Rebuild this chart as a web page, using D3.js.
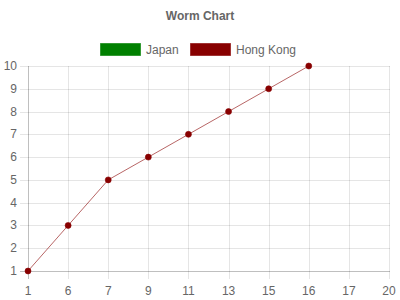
<!DOCTYPE html>
<html>
<head>
<meta charset="utf-8">
<script src="https://cdn.jsdelivr.net/npm/d3@7"></script>
<style>
  body { margin: 0; background: #fff; }
  svg text { font-family: "Liberation Sans", Arial, Helvetica, sans-serif; fill: #666; }
</style>
</head>
<body>
<svg width="400" height="300"></svg>
<script>
// chart data
var labels = ["1", "6", "7", "9", "11", "13", "15", "16", "17", "20"];
var japan = [null, null, null, null, null, null, null, null, null, null];
var hongKong = [1, 3, 5, 6, 7, 8, 9, 10, null, null];
var yTicks = [1, 2, 3, 4, 5, 6, 7, 8, 9, 10];

var series = [
    { name: "Japan", values: japan, fill: "#008000", stroke: "rgba(0,128,0,0.6)" },
    { name: "Hong Kong", values: hongKong, fill: "#880000", stroke: "rgba(136,0,0,0.6)" }
];

var svg = d3.select("svg");
// plot area (note: "top" is reserved on window)
var plotL = 28, plotR = 389, plotT = 66, plotB = 271;

var x = d3.scalePoint().domain(labels).range([plotL, plotR]);
var y = d3.scaleLinear().domain([1, 10]).range([plotB, plotT]);

// title
svg.append("text")
    .attr("x", 200).attr("y", 20)
    .attr("text-anchor", "middle")
    .style("font-size", "12px").style("font-weight", "bold")
    .text("Worm Chart");

// legend
var legendX = [100, 190];
series.forEach(function(s, i) {
    var g = svg.append("g").attr("transform", "translate(" + legendX[i] + ",43)");
    g.append("rect").attr("x", 0.5).attr("y", 0.5).attr("width", 40).attr("height", 12)
        .attr("fill", s.fill).attr("stroke", s.stroke);
    g.append("text").attr("x", 46).attr("y", 11)
        .style("font-size", "12px").text(s.name);
});

// horizontal grid
svg.append("g").selectAll("line").data(yTicks).enter().append("line")
    .attr("x1", plotL - 8).attr("x2", plotR + 1)
    .attr("y1", function(d) { return Math.round(y(d)) + 0.5; })
    .attr("y2", function(d) { return Math.round(y(d)) + 0.5; })
    .attr("stroke", function(d) { return d == 1 ? "rgba(0,0,0,0.25)" : "rgba(0,0,0,0.1)"; });

// vertical grid
svg.append("g").selectAll("line").data(labels).enter().append("line")
    .attr("x1", function(d) { return Math.round(x(d)) + 0.5; })
    .attr("x2", function(d) { return Math.round(x(d)) + 0.5; })
    .attr("y1", plotT).attr("y2", plotB + 8)
    .attr("stroke", function(d, i) { return i == 0 ? "rgba(0,0,0,0.25)" : "rgba(0,0,0,0.1)"; });

// y labels
svg.append("g").selectAll("text").data(yTicks).enter().append("text")
    .attr("x", plotL - 11)
    .attr("y", function(d) { return y(d) + 4; })
    .attr("text-anchor", "end")
    .style("font-size", "12px")
    .text(function(d) { return d; });

// x labels
svg.append("g").selectAll("text").data(labels).enter().append("text")
    .attr("x", function(d) { return x(d); })
    .attr("y", plotB + 24)
    .attr("text-anchor", "middle")
    .style("font-size", "12px")
    .text(function(d) { return d; });

// lines + points
var line = d3.line()
    .defined(function(d) { return d.v != null; })
    .x(function(d) { return x(d.l); })
    .y(function(d) { return y(d.v); });

series.forEach(function(s) {
    var pts = labels.map(function(l, i) { return { l: l, v: s.values[i] }; });
    svg.append("path").datum(pts)
        .attr("d", line)
        .attr("fill", "none")
        .attr("stroke", s.stroke)
        .attr("stroke-width", 1);
    svg.append("g").selectAll("circle")
        .data(pts.filter(function(d) { return d.v != null; }))
        .enter().append("circle")
        .attr("cx", function(d) { return x(d.l); })
        .attr("cy", function(d) { return y(d.v); })
        .attr("r", 3)
        .attr("fill", s.fill)
        .attr("stroke", s.stroke);
});
</script>
</body>
</html>
